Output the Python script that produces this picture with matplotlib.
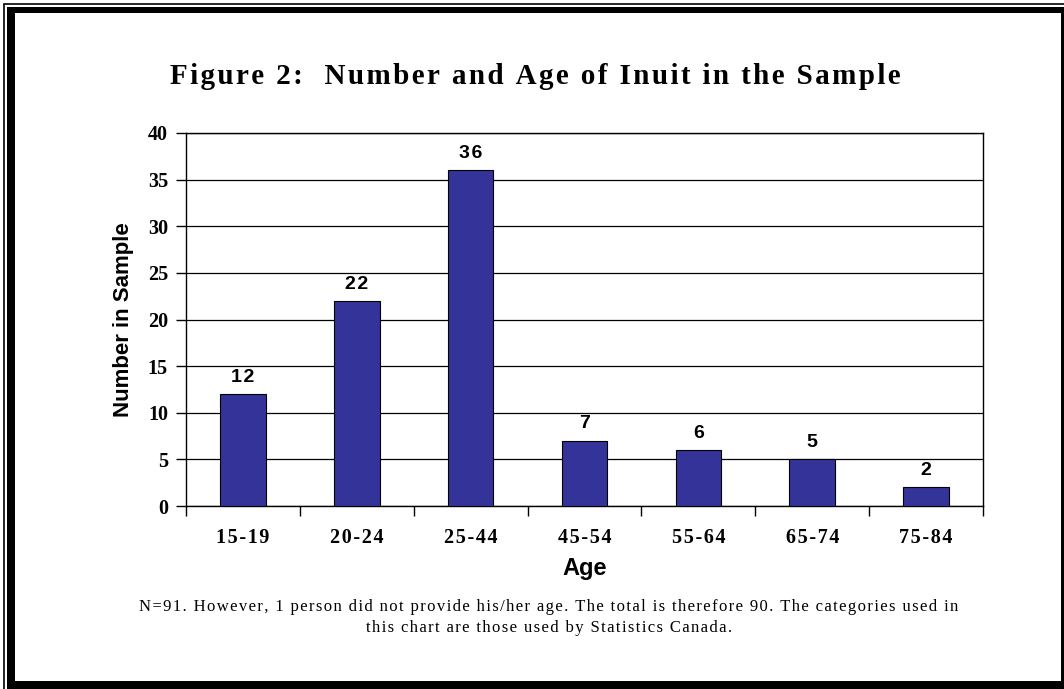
import matplotlib
matplotlib.use("Agg")
import matplotlib.pyplot as plt
from matplotlib.patches import Rectangle

categories = ["15-19", "20-24", "25-44", "45-54", "55-64", "65-74", "75-84"]
counts = [12, 22, 36, 7, 6, 5, 2]
y_ticks = [0, 5, 10, 15, 20, 25, 30, 35, 40]

title = "Figure 2:  Number and Age of Inuit in the Sample"
footnote1 = "N=91. However, 1 person did not provide his/her age. The total is therefore 90. The categories used in"
footnote2 = "this chart are those used by Statistics Canada."

W, H = 1064, 689
fig = plt.figure(figsize=(W / 100, H / 100), dpi=100)
fig.patch.set_facecolor("white")

def fx(px):
    return px / W

def fy(py):
    return 1 - py / H

def spaced(s, sep="\u200a"):
    return sep.join(s)

# frame
fig.add_artist(Rectangle((fx(4), fy(H + 5)), fx(W), fy(3.5) - fy(H + 5), transform=fig.transFigure,
                         fill=False, edgecolor="black", linewidth=1.2))
for (x0, y0, x1, y1) in [(7, 7, 15, H), (7, 7, W, 13), (1061, 7, W, H), (7, 681, W, H)]:
    fig.add_artist(Rectangle((fx(x0), fy(y1)), fx(x1) - fx(x0), fy(y0) - fy(y1),
                             transform=fig.transFigure, facecolor="black", edgecolor="none"))

left, right, top, bottom = 186, 983, 133, 506
ax = fig.add_axes([fx(left), fy(bottom), fx(right) - fx(left), fy(top) - fy(bottom)])

x = list(range(len(categories)))
bars = ax.bar(x, counts, width=0.4, color="#333399", edgecolor="black", linewidth=0.8, zorder=3)
ax.set_xlim(-0.5, len(categories) - 0.5)
ax.set_ylim(0, 40)
ax.set_yticks(y_ticks)
ax.set_yticklabels([str(v) for v in y_ticks], fontfamily="Liberation Serif", fontweight="bold", fontsize=14.5)
ax.set_xticks(x)
ax.set_xticklabels([spaced(c) for c in categories], fontfamily=["Liberation Serif", "DejaVu Serif"],
                   fontweight="bold", fontsize=14.5)
ax.tick_params(axis="x", which="major", length=0, pad=16)
ax.set_xticks([i + 0.5 for i in range(-1, len(categories))], minor=True)
ax.tick_params(axis="x", which="minor", length=7, width=1, color="black", direction="out")
ax.tick_params(axis="y", length=7, width=1, color="black", direction="out", pad=6)

ax.yaxis.grid(True, color="black", linewidth=0.9, zorder=0)
ax.set_axisbelow(True)
for sp in ax.spines.values():
    sp.set_color("black")
    sp.set_linewidth(1)

for xi, v in zip(x, counts):
    ax.annotate(spaced(str(v)), (xi, v), xytext=(0, 6), textcoords="offset points", ha="center", va="bottom",
                fontfamily=["Liberation Sans", "DejaVu Sans"], fontweight="bold", fontsize=14)

ax.set_ylabel("Number in Sample", fontfamily="Liberation Sans", fontweight="bold", fontsize=16, labelpad=10)
ax.set_xlabel("Age", fontfamily="Liberation Sans", fontweight="bold", fontsize=17, labelpad=6)

fig.text(fx(535), fy(76), spaced(title), ha="center", va="center",
         fontfamily=["Liberation Serif", "DejaVu Serif"], fontweight="bold", fontsize=21)

fig.text(fx(549), fy(607), spaced(footnote1), ha="center", va="center",
         fontfamily=["Liberation Serif", "DejaVu Serif"], fontsize=12)
fig.text(fx(549), fy(628), spaced(footnote2), ha="center", va="center",
         fontfamily=["Liberation Serif", "DejaVu Serif"], fontsize=12)

fig.savefig("out.png", dpi=100, facecolor="white")
